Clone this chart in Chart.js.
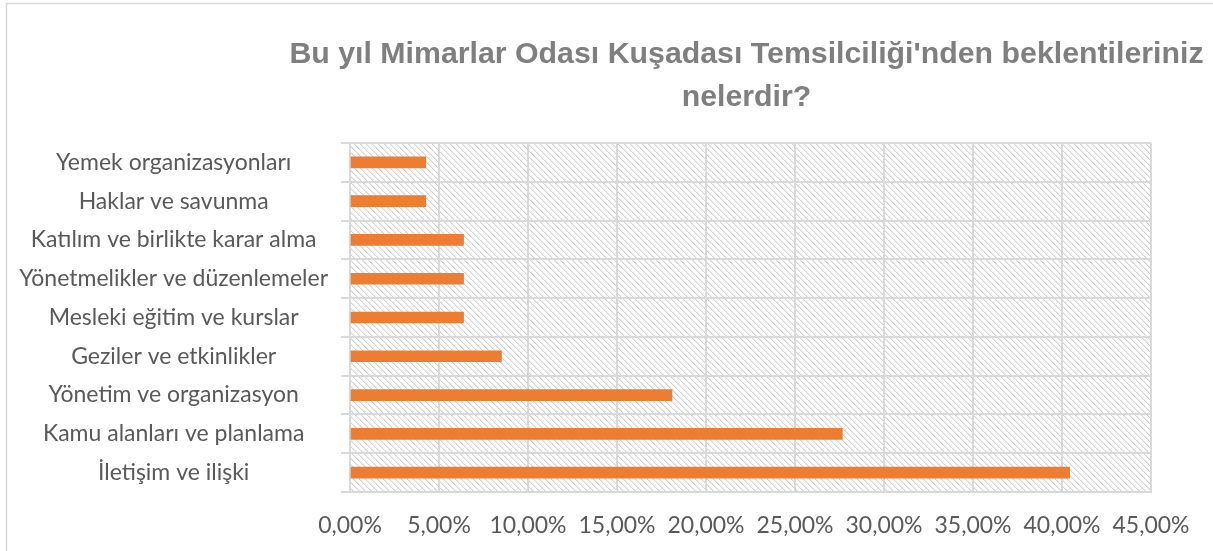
<!DOCTYPE html>
<html><head><meta charset="utf-8">
<script src="https://cdn.jsdelivr.net/npm/chart.js@4/dist/chart.umd.min.js"></script>
<style>html,body{margin:0;padding:0;background:#fff;overflow:hidden}</style>
</head><body>
<canvas id="c" width="1213" height="551"></canvas>
<script>
const titleLines = ["Bu yıl Mimarlar Odası Kuşadası Temsilciliği'nden beklentileriniz", "nelerdir?"];
const categories = [
  "Yemek organizasyonları",
  "Haklar ve savunma",
  "Katılım ve birlikte karar alma",
  "Yönetmelikler ve düzenlemeler",
  "Mesleki eğitim ve kurslar",
  "Geziler ve etkinlikler",
  "Yönetim ve organizasyon",
  "Kamu alanları ve planlama",
  "İletişim ve ilişki"
];
const values = [4.26, 4.26, 6.38, 6.38, 6.38, 8.51, 18.09, 27.66, 40.43];
const xMin = 0, xMax = 45, xStep = 5;

const GRID = '#d9d9d9';
const TEXT = '#595959';
const tickFont = { family: 'Lato, "Open Sans", sans-serif', size: 23 };

function makeHatch(ctx) {
  const n = 6;
  const c = document.createElement('canvas');
  c.width = n; c.height = n;
  const g = c.getContext('2d');
  g.fillStyle = '#ffffff'; g.fillRect(0, 0, n, n);
  for (let y = 0; y < n; y++) {
    for (let x = 0; x < n; x++) {
      const d = ((x - y) % n + n) % n;
      if (d === 0) { g.fillStyle = '#d2d2d2'; g.fillRect(x, y, 1, 1); }
      else if (d === 1) { g.fillStyle = '#ececec'; g.fillRect(x, y, 1, 1); }
    }
  }
  return ctx.createPattern(c, 'repeat');
}

const decor = {
  id: 'decor',
  beforeDraw(chart) {
    const ctx = chart.ctx, a = chart.chartArea;
    ctx.save();
    ctx.fillStyle = '#fff';
    ctx.fillRect(0, 0, chart.width, chart.height);
    ctx.strokeStyle = GRID; ctx.lineWidth = 1.5;
    ctx.strokeRect(6.5, 3.5, chart.width + 10, chart.height + 10);
    ctx.fillStyle = makeHatch(ctx);
    ctx.fillRect(a.left, a.top, a.right - a.left, a.bottom - a.top);
    ctx.restore();
  },
  afterDraw(chart) {
    const ctx = chart.ctx, a = chart.chartArea;
    ctx.save();
    ctx.font = 'bold 30.3px "Liberation Sans", Arial, sans-serif';
    ctx.fillStyle = '#7f7f7f';
    ctx.textAlign = 'center';
    ctx.textBaseline = 'alphabetic';
    const cx = (a.left + a.right) / 2 - 4;
    titleLines.forEach((t, i) => ctx.fillText(t, cx, 63 + i * 43));
    ctx.restore();
  }
};

new Chart(document.getElementById('c'), {
  type: 'bar',
  data: {
    labels: categories,
    datasets: [{
      data: values,
      backgroundColor: '#ED7D31',
      borderWidth: 0,
      barThickness: 11
    }]
  },
  options: {
    indexAxis: 'y',
    responsive: false,
    animation: false,
    devicePixelRatio: 1,
    layout: { padding: { left: 10, right: 62, top: 143, bottom: 0 } },
    plugins: { legend: { display: false }, tooltip: { enabled: false }, title: { display: false } },
    scales: {
      x: {
        min: xMin, max: xMax,
        grid: { color: GRID, lineWidth: 2, drawTicks: false },
        border: { display: true, color: GRID, width: 2 },
        ticks: {
          stepSize: xStep,
          color: TEXT, font: tickFont, padding: 20,
          callback: v => v.toFixed(2).replace('.', ',') + '%'
        },
        afterFit: s => { s.height = 59; }
      },
      y: {
        grid: { color: GRID, lineWidth: 2, tickLength: 9, drawTicks: true },
        border: { display: true, color: GRID, width: 2 },
        ticks: { color: TEXT, font: tickFont, crossAlign: 'center', padding: 13, autoSkip: false },
        afterFit: s => { s.width = 340; }
      }
    }
  },
  plugins: [decor]
});
</script>
</body></html>
